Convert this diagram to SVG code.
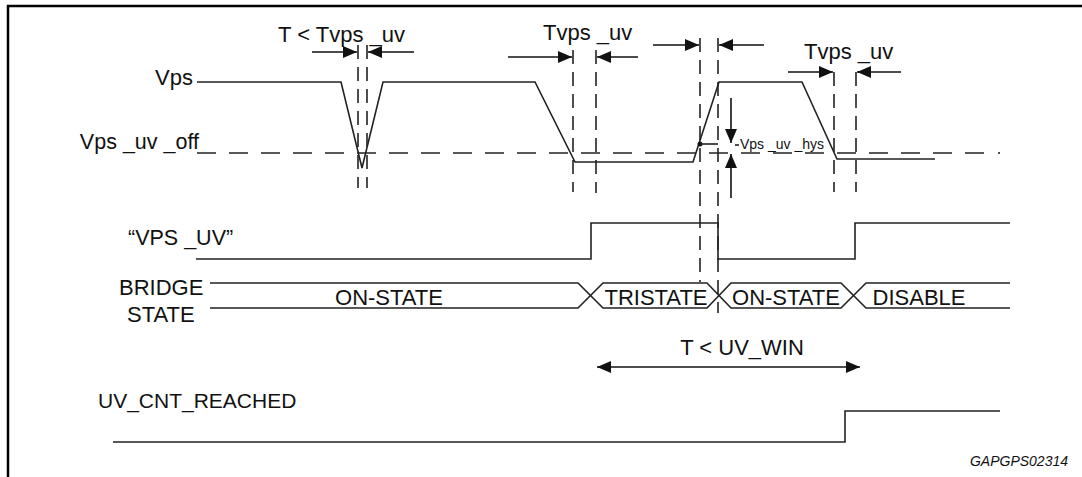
<svg xmlns="http://www.w3.org/2000/svg" width="1082" height="477" viewBox="0 0 1082 477">
<style>
  text { font-family: "Liberation Sans", Arial, sans-serif; fill: #111; }
  .lbl { font-size: 22px; }
  .small { font-size: 14px; }
  .note { font-size: 14px; font-style: italic; }
  .wave { fill: none; stroke: #222; stroke-width: 1.6; }
  .dashh { fill: none; stroke: #222; stroke-width: 1.6; stroke-dasharray: 19 13; }
  .dashv { fill: none; stroke: #222; stroke-width: 1.6; stroke-dasharray: 14 8; }
  .arr { fill: none; stroke: #111; stroke-width: 1.6; marker-end: url(#ah); }
  .frame { fill: none; stroke: #000; stroke-width: 2.5; }
</style>
<defs>
  <marker id="ah" markerUnits="userSpaceOnUse" markerWidth="15" markerHeight="12" refX="14" refY="6" orient="auto-start-reverse">
    <path d="M0,0 L14,6 L0,12 z" fill="#111"/>
  </marker>
</defs>
<rect width="1082" height="477" fill="#fff"/>
<path class="frame" d="M8,477 L8,6 L1082,6"/>

<g id="vps">
  <text class="lbl" x="193" y="85" text-anchor="end">Vps</text>
  <path class="wave" d="M197,82 L341,82 L362,168 L383,82 L535,82 L575,162 L693,162 L719,82 L802,82 L837,159 L935,159"/>
  <circle cx="700" cy="144" r="2.5" fill="#111"/>
</g>

<g id="vps-uv-off">
  <text class="lbl" x="199" y="149" text-anchor="end" style="font-size:21.5px">Vps _uv _off</text>
  <path class="dashh" d="M197,153 L992,153"/>
  <circle cx="999" cy="153" r="1" fill="#111"/>
</g>

<g id="vps-uv-hys">
  <path class="wave" d="M700,144 L718,144"/>
  <path class="wave" d="M735,145 L739,145"/>
  <text class="small" x="740" y="149">Vps _uv _hys</text>
</g>

<g id="timing-1">
  <text class="lbl" x="278" y="42">T &lt; Tvps _uv</text>
</g>
<g id="timing-2">
  <text class="lbl" x="543" y="40">Tvps _uv</text>
</g>
<g id="timing-4">
  <text class="lbl" x="804" y="59">Tvps _uv</text>
</g>

<g id="vps-uv-signal">
  <text class="lbl" x="128" y="245" style="font-size:21.5px">“VPS _UV”</text>
  <path class="wave" d="M196,259 L591,259 L591,223 L718,223 L718,259 L855,259 L855,223 L1010,223"/>
</g>

<g id="bridge-state">
  <text class="lbl" x="119" y="295">BRIDGE</text>
  <text class="lbl" x="127" y="322">STATE</text>
  <path class="wave" d="M210,283 L578,283 L603,308 L707,308 L731,283 L841,283 L866,308 L1010,308"/>
  <path class="wave" d="M210,308 L578,308 L603,283 L707,283 L731,308 L841,308 L866,283 L1010,283"/>
  <text class="lbl" x="389" y="305" text-anchor="middle">ON-STATE</text>
  <text class="lbl" x="656" y="305" text-anchor="middle">TRISTATE</text>
  <text class="lbl" x="786" y="305" text-anchor="middle">ON-STATE</text>
  <text class="lbl" x="919" y="305" text-anchor="middle">DISABLE</text>
</g>

<g id="uv-win">
  <text class="lbl" x="742" y="355" text-anchor="middle">T &lt; UV_WIN</text>
</g>

<g id="uv-cnt-reached">
  <text class="lbl" x="98" y="408" style="font-size:21px">UV_CNT_REACHED</text>
  <path class="wave" d="M113,442 L845,442 L845,411 L1000,411"/>
</g>

<g id="connectors">
  <path class="dashv" d="M358,45 L358,188"/>
  <path class="dashv" d="M367,45 L367,188"/>
  <path class="dashv" d="M573,50 L573,192"/>
  <path class="dashv" d="M596,50 L596,193"/>
  <path class="dashv" d="M700,38 L700,282"/>
  <path class="dashv" d="M718,38 L718,313"/>
  <path class="dashv" d="M834,72 L834,192"/>
  <path class="dashv" d="M856,72 L856,192"/>
  <path class="arr" d="M312,52 L357,52"/>
  <path class="arr" d="M414,52 L368,52"/>
  <path class="arr" d="M508,57 L572,57"/>
  <path class="arr" d="M638,57 L597,57"/>
  <path class="arr" d="M653,45 L699,45"/>
  <path class="arr" d="M764,45 L719,45"/>
  <path class="arr" d="M788,72 L833,72"/>
  <path class="arr" d="M901,72 L857,72"/>
  <path class="arr" d="M731,98 L731,143"/>
  <path class="arr" d="M731,198 L731,154"/>
  <path class="arr" d="M597,367 L860,367" style="marker-start:url(#ah)"/>
</g>

<text class="note" x="1068" y="466" text-anchor="end">GAPGPS02314</text>
</svg>
